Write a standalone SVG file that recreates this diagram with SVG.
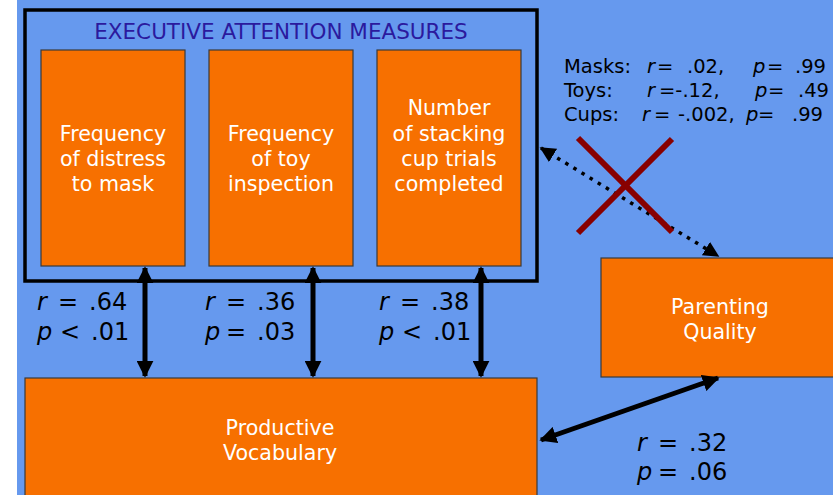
<svg xmlns="http://www.w3.org/2000/svg" width="833" height="495" viewBox="0 0 833 495">
<style>
.box{fill:#F77000;stroke:#3a3a3a;stroke-width:1.2}
.bt{font-family:"DejaVu Sans",Verdana,sans-serif;font-size:20.6px;fill:#ffffff;text-anchor:middle}
.st{font-family:"DejaVu Sans",Verdana,sans-serif;font-size:24px;fill:#000}
.sm{font-family:"DejaVu Sans",Verdana,sans-serif;font-size:19.5px;fill:#000}
.i{font-style:italic}
.arr{stroke:#000;stroke-width:5;fill:none}
</style>
<defs>
<marker id="ah" viewBox="0 0 10 10" refX="9" refY="5" markerWidth="3.4" markerHeight="3.4" orient="auto-start-reverse" markerUnits="strokeWidth">
<path d="M0,0 L10,5 L0,10 z" fill="#000"/>
</marker>
<marker id="ahd" viewBox="0 0 10 10" refX="9" refY="5" markerWidth="4.5" markerHeight="4.5" orient="auto-start-reverse" markerUnits="strokeWidth">
<path d="M0,0 L10,5 L0,10 z" fill="#000"/>
</marker>
</defs>
<rect x="0" y="0" width="833" height="495" fill="#ffffff"/>
<rect x="17" y="0" width="816" height="495" fill="#6699EE"/>
<g id="executive-attention">
<rect x="25" y="10" width="512" height="271" fill="none" stroke="#000" stroke-width="3.5"/>
<text x="281" y="39" font-family="DejaVu Sans,Verdana,sans-serif" font-size="21.5" fill="#2B1A9E" text-anchor="middle">EXECUTIVE ATTENTION MEASURES</text>
</g>
<g id="mask">
<rect class="box" x="41" y="50" width="144" height="216"/>
<text class="bt"><tspan x="113" y="141">Frequency</tspan><tspan x="113" y="166">of distress</tspan><tspan x="113" y="191">to mask</tspan></text>
</g>
<g id="toy">
<rect class="box" x="209" y="50" width="144" height="216"/>
<text class="bt"><tspan x="281" y="141">Frequency</tspan><tspan x="281" y="166">of toy</tspan><tspan x="281" y="191">inspection</tspan></text>
</g>
<g id="cups">
<rect class="box" x="377" y="50" width="144" height="216"/>
<text class="bt"><tspan x="449" y="115">Number</tspan><tspan x="449" y="141">of stacking</tspan><tspan x="449" y="166">cup trials</tspan><tspan x="449" y="191">completed</tspan></text>
</g>
<g id="vocabulary">
<rect class="box" x="25" y="378" width="512" height="125"/>
<text class="bt"><tspan x="280" y="435">Productive</tspan><tspan x="280" y="460">Vocabulary</tspan></text>
</g>
<g id="parenting">
<rect class="box" x="601" y="258" width="240" height="119"/>
<text class="bt"><tspan x="720" y="314">Parenting</tspan><tspan x="720" y="339">Quality</tspan></text>
</g>
<g id="connectors">
<line class="arr" x1="145" y1="268" x2="145" y2="376" marker-start="url(#ah)" marker-end="url(#ah)"/>
<line class="arr" x1="313" y1="268" x2="313" y2="376" marker-start="url(#ah)" marker-end="url(#ah)"/>
<line class="arr" x1="481" y1="268" x2="481" y2="376" marker-start="url(#ah)" marker-end="url(#ah)"/>
<line class="arr" x1="718" y1="378" x2="541" y2="440" marker-start="url(#ah)" marker-end="url(#ah)"/>
<line x1="541" y1="148" x2="718" y2="256" stroke="#000" stroke-width="3.5" stroke-dasharray="3.5,6" marker-start="url(#ahd)" marker-end="url(#ahd)"/>
</g>
<g id="no-effect-mark" stroke="#880000" stroke-width="6">
<line x1="578" y1="138" x2="672" y2="232"/>
<line x1="672" y1="139" x2="578" y2="233"/>
</g>
<g id="labels">
<text class="st" y="310"><tspan class="i" x="37">r</tspan><tspan x="58">=</tspan><tspan x="89">.64</tspan></text>
<text class="st" y="340"><tspan class="i" x="37">p</tspan><tspan x="60">&lt;</tspan><tspan x="91">.01</tspan></text>
<text class="st" y="310"><tspan class="i" x="205">r</tspan><tspan x="226">=</tspan><tspan x="257">.36</tspan></text>
<text class="st" y="340"><tspan class="i" x="205">p</tspan><tspan x="226">=</tspan><tspan x="257">.03</tspan></text>
<text class="st" y="310"><tspan class="i" x="379">r</tspan><tspan x="400">=</tspan><tspan x="431">.38</tspan></text>
<text class="st" y="340"><tspan class="i" x="379">p</tspan><tspan x="402">&lt;</tspan><tspan x="433">.01</tspan></text>
<text class="st" y="451"><tspan class="i" x="637">r</tspan><tspan x="658">=</tspan><tspan x="689">.32</tspan></text>
<text class="st" y="480"><tspan class="i" x="637">p</tspan><tspan x="658">=</tspan><tspan x="689">.06</tspan></text>
<text class="sm" y="73"><tspan x="564">Masks:</tspan><tspan class="i" x="647">r</tspan><tspan x="657">=</tspan><tspan x="687">.02,</tspan><tspan class="i" x="753">p</tspan><tspan x="767">=</tspan><tspan x="795">.99</tspan></text>
<text class="sm" y="97"><tspan x="564">Toys:</tspan><tspan class="i" x="647">r</tspan><tspan x="659">=-.12,</tspan><tspan class="i" x="755">p</tspan><tspan x="768">=</tspan><tspan x="798">.49</tspan></text>
<text class="sm" y="121"><tspan x="564">Cups:</tspan><tspan class="i" x="642">r</tspan><tspan x="654">=</tspan><tspan x="678">-.002,</tspan><tspan class="i" x="746">p</tspan><tspan x="758">=</tspan><tspan x="792">.99</tspan></text>
</g>
</svg>
